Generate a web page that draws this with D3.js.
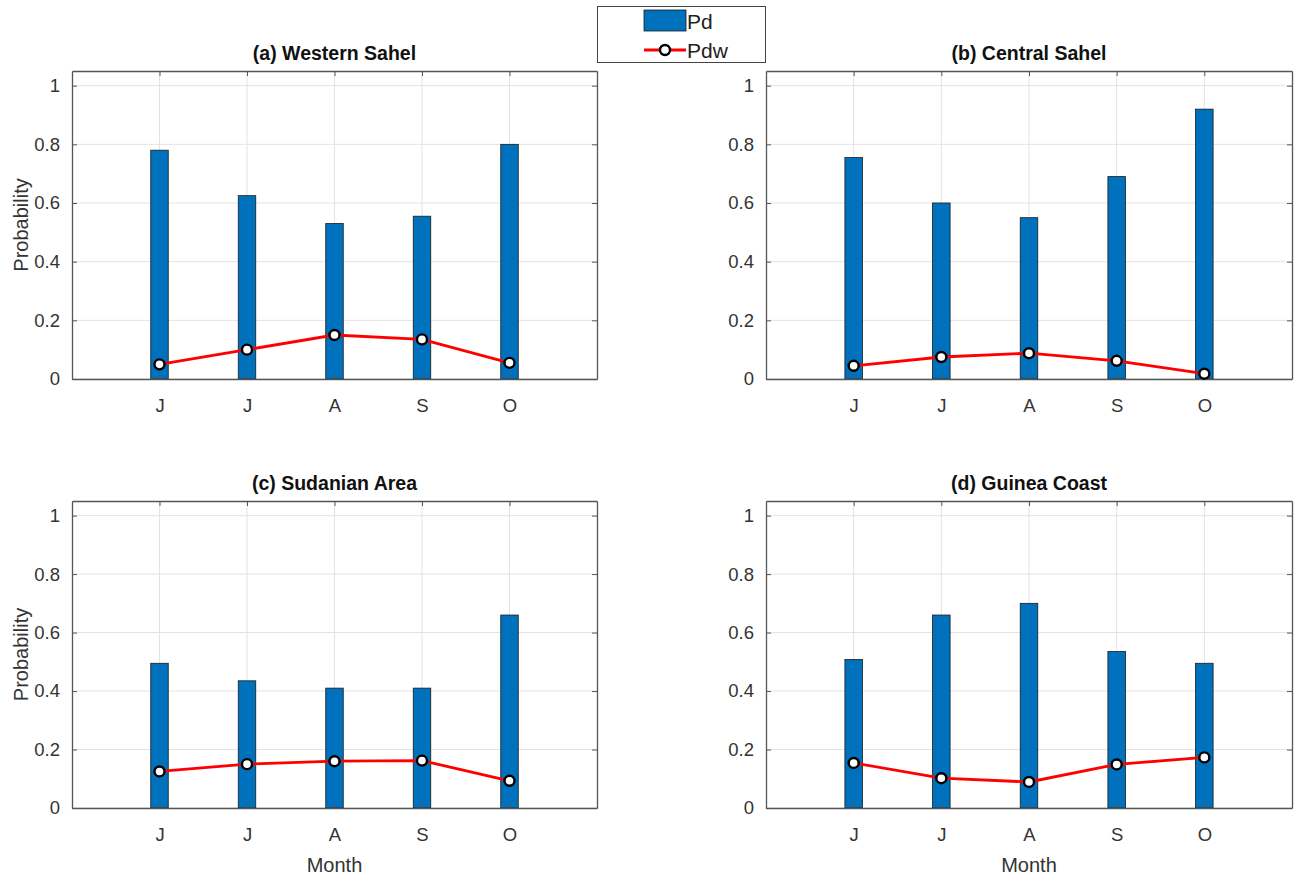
<!DOCTYPE html>
<html>
<head>
<meta charset="utf-8">
<script src="https://cdn.jsdelivr.net/npm/d3@7"></script>
<style>
    body { margin: 0; background: white; }
    text { font-family: "Liberation Sans", Arial, sans-serif; }
</style>
</head>
<body>
<div id="chart"></div>
<script>
// Data
var months = ["J", "J", "A", "S", "O"];
var yTicks = [0, 0.2, 0.4, 0.6, 0.8, 1];
var titles = ["(a) Western Sahel", "(b) Central Sahel", "(c) Sudanian Area", "(d) Guinea Coast"];

var pdWestern = [0.78, 0.625, 0.53, 0.555, 0.80];
var pdwWestern = [0.05, 0.10, 0.15, 0.135, 0.055];

var pdCentral = [0.755, 0.60, 0.55, 0.69, 0.92];
var pdwCentral = [0.045, 0.075, 0.088, 0.062, 0.018];

var pdSudanian = [0.495, 0.435, 0.41, 0.41, 0.66];
var pdwSudanian = [0.125, 0.15, 0.16, 0.162, 0.093];

var pdGuinea = [0.508, 0.66, 0.70, 0.535, 0.495];
var pdwGuinea = [0.154, 0.102, 0.089, 0.149, 0.173];

var blue = "#0072BD";

var svg = d3.select("#chart")
    .append("svg")
    .attr("width", 1297)
    .attr("height", 882);

// Panel boxes (pixels)
var panels = [
    {title: titles[0], pd: pdWestern, pdw: pdwWestern, left: 72, top: 71, right: 597, bottom: 379, ylab: true, xlab: false},
    {title: titles[1], pd: pdCentral, pdw: pdwCentral, left: 766, top: 71, right: 1292, bottom: 379, ylab: false, xlab: false},
    {title: titles[2], pd: pdSudanian, pdw: pdwSudanian, left: 72, top: 501, right: 597, bottom: 808, ylab: true, xlab: true},
    {title: titles[3], pd: pdGuinea, pdw: pdwGuinea, left: 766, top: 501, right: 1292, bottom: 808, ylab: false, xlab: true}
];

panels.forEach(function (p) {
    var width = p.right - p.left,
        height = p.bottom - p.top;

    var g = svg.append("g")
        .attr("transform", `translate(${p.left},${p.top})`);

    var x = d3.scaleLinear().domain([0, 6]).range([0, width]);
    var y = d3.scaleLinear().domain([0, 1.05]).range([height, 0]);
    var xPos = months.map((m, i) => i + 1);

    // Grid
    g.selectAll(".hgrid")
        .data(yTicks)
        .join("line")
        .attr("x1", 0).attr("x2", width)
        .attr("y1", d => y(d)).attr("y2", d => y(d))
        .attr("stroke", "#e3e3e3")
        .attr("stroke-width", 1);

    g.selectAll(".vgrid")
        .data(xPos)
        .join("line")
        .attr("x1", d => x(d)).attr("x2", d => x(d))
        .attr("y1", 0).attr("y2", height)
        .attr("stroke", "#e3e3e3")
        .attr("stroke-width", 1);

    // Bars for Pd
    var bw = x(0.2) - x(0);
    g.selectAll(".bar")
        .data(p.pd)
        .join("rect")
        .attr("x", (d, i) => x(xPos[i]) - bw / 2)
        .attr("y", d => y(d))
        .attr("width", bw)
        .attr("height", d => y(0) - y(d))
        .attr("fill", blue)
        .attr("stroke", "#1a1a1a")
        .attr("stroke-width", 0.8);

    // Axes with inward ticks
    var xAxis = d3.axisBottom(x).tickValues(xPos).tickFormat((d, i) => months[i])
        .tickSizeInner(-5).tickSizeOuter(0).tickPadding(20);
    var yAxis = d3.axisLeft(y).tickValues(yTicks).tickFormat(d => d === 0 || d === 1 ? d : d3.format(".1f")(d))
        .tickSizeInner(-5).tickSizeOuter(0).tickPadding(12);

    var gx = g.append("g").attr("transform", `translate(0,${height})`).call(xAxis);
    var gy = g.append("g").call(yAxis);
    var gxTop = g.append("g").call(d3.axisTop(x).tickValues(xPos).tickFormat("").tickSizeInner(-5).tickSizeOuter(0));
    var gyRight = g.append("g").attr("transform", `translate(${width},0)`)
        .call(d3.axisRight(y).tickValues(yTicks).tickFormat("").tickSizeInner(-5).tickSizeOuter(0));

    [gx, gy, gxTop, gyRight].forEach(function (a) {
        a.select(".domain").attr("stroke", "#555").attr("stroke-width", 1.3);
        a.selectAll(".tick line").attr("stroke", "#555");
        a.selectAll("text")
            .style("font-family", "'Liberation Sans', Arial, sans-serif")
            .style("font-size", "18.5px")
            .style("fill", "#333");
    });

    // Pdw line and markers
    var line = d3.line()
        .x((d, i) => x(xPos[i]))
        .y(d => y(d));

    g.append("path")
        .datum(p.pdw)
        .attr("fill", "none")
        .attr("stroke", "#ff0000")
        .attr("stroke-width", 2.8)
        .attr("d", line);

    g.selectAll(".dot")
        .data(p.pdw)
        .join("circle")
        .attr("cx", (d, i) => x(xPos[i]))
        .attr("cy", d => y(d))
        .attr("r", 5)
        .attr("fill", "white")
        .attr("stroke", "black")
        .attr("stroke-width", 2.4);

    // Title
    g.append("text")
        .attr("x", width / 2)
        .attr("y", -11)
        .attr("text-anchor", "middle")
        .style("font-size", "19.5px")
        .style("font-weight", "bold")
        .style("fill", "#111")
        .text(p.title);

    if (p.ylab) {
        g.append("text")
            .attr("transform", `translate(-44,${height / 2}) rotate(-90)`)
            .attr("text-anchor", "middle")
            .style("font-size", "20px")
            .style("fill", "#333")
            .text("Probability");
    }
    if (p.xlab) {
        g.append("text")
            .attr("x", width / 2)
            .attr("y", height + 64)
            .attr("text-anchor", "middle")
            .style("font-size", "20px")
            .style("fill", "#333")
            .text("Month");
    }
});

// Legend
var legend = svg.append("g");
legend.append("rect")
    .attr("x", 597.5).attr("y", 6.5)
    .attr("width", 168).attr("height", 56)
    .attr("fill", "white")
    .attr("stroke", "#444")
    .attr("stroke-width", 1);

legend.append("rect")
    .attr("x", 644).attr("y", 10)
    .attr("width", 42).attr("height", 21)
    .attr("fill", blue)
    .attr("stroke", "#1a1a1a")
    .attr("stroke-width", 0.8);

legend.append("line")
    .attr("x1", 644).attr("x2", 686)
    .attr("y1", 50).attr("y2", 50)
    .attr("stroke", "#ff0000")
    .attr("stroke-width", 2.8);

legend.append("circle")
    .attr("cx", 665).attr("cy", 50)
    .attr("r", 5)
    .attr("fill", "white")
    .attr("stroke", "black")
    .attr("stroke-width", 2.4);

legend.selectAll(".ltext")
    .data(["Pd", "Pdw"])
    .join("text")
    .attr("x", 687)
    .attr("y", (d, i) => i === 0 ? 29 : 58)
    .style("font-size", "21px")
    .style("fill", "#222")
    .text(d => d);
</script>
</body>
</html>
